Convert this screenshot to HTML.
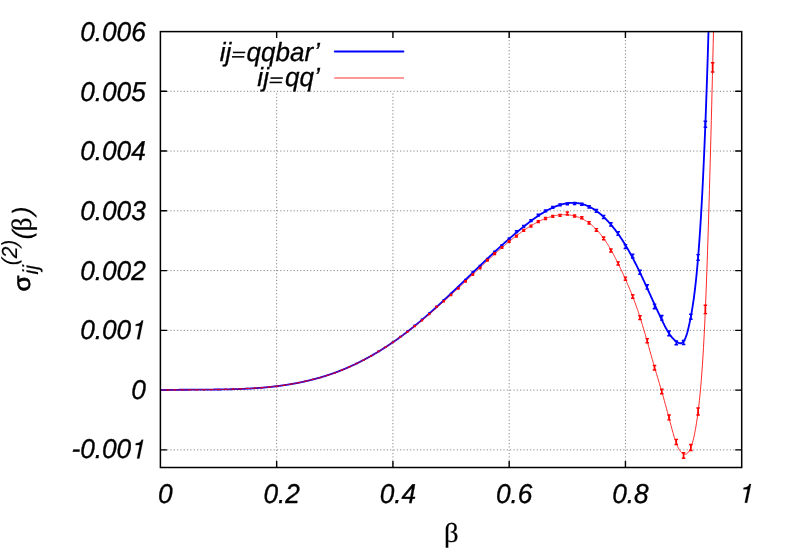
<!DOCTYPE html>
<html><head><meta charset="utf-8"><title>plot</title>
<style>html,body{margin:0;padding:0;background:#fff;}svg text{text-rendering:geometricPrecision}body{width:789px;height:552px;position:relative;overflow:hidden;font-family:"Liberation Sans",sans-serif;}</style>
</head><body>
<svg width="789" height="552" viewBox="0 0 789 552" style="position:absolute;left:0;top:0;will-change:transform">
<defs><clipPath id="c"><rect x="160.40" y="31.60" width="581.30" height="435.90"/></clipPath></defs>
<path d="M276.66 467.50V91.30M392.92 467.50V91.30M509.18 467.50V31.60M625.44 467.50V31.60M160.40 449.86H741.70M160.40 390.10H741.70M160.40 330.34H741.70M160.40 270.58H741.70M160.40 210.82H741.70M160.40 151.06H741.70M160.40 91.30H741.70" stroke="#838383" stroke-width="1" stroke-dasharray="1.15 2.18" fill="none"/>
<path d="M276.66 467.50v-6.5M276.66 31.60v6.5M392.92 467.50v-6.5M392.92 31.60v6.5M509.18 467.50v-6.5M509.18 31.60v6.5M625.44 467.50v-6.5M625.44 31.60v6.5M160.40 449.86h6.5M741.70 449.86h-6.5M160.40 390.10h6.5M741.70 390.10h-6.5M160.40 330.34h6.5M741.70 330.34h-6.5M160.40 270.58h6.5M741.70 270.58h-6.5M160.40 210.82h6.5M741.70 210.82h-6.5M160.40 151.06h6.5M741.70 151.06h-6.5M160.40 91.30h6.5M741.70 91.30h-6.5" stroke="#000" stroke-width="1.4" fill="none"/>
<g clip-path="url(#c)">
<path d="M160.40 390.20L160.77 390.19L161.14 390.18L161.51 390.16L161.87 390.15L162.24 390.14L162.61 390.13L162.98 390.12L163.35 390.11L163.72 390.10L164.08 390.09L164.45 390.08L164.82 390.07L165.19 390.06L165.56 390.05L165.93 390.04L166.29 390.03L166.66 390.02L167.03 390.01L167.40 390.00L167.77 389.99L168.14 389.98L168.50 389.97L168.87 389.97L169.24 389.96L169.61 389.95L169.98 389.94L170.35 389.93L170.72 389.93L171.08 389.92L171.45 389.91L171.82 389.90L172.19 389.90L172.56 389.89L172.93 389.88L173.29 389.88L173.66 389.87L174.03 389.86L174.40 389.86L174.77 389.85L175.14 389.85L175.50 389.84L175.87 389.83L176.24 389.83L176.61 389.82L176.98 389.82L177.35 389.81L177.71 389.81L178.08 389.80L178.45 389.80L178.82 389.79L179.19 389.79L179.56 389.78L179.93 389.78L180.29 389.77L180.66 389.77L181.03 389.77L181.40 389.76L181.77 389.76L182.14 389.75L182.50 389.75L182.87 389.75L183.24 389.74L183.61 389.74L183.98 389.74L184.35 389.73L184.71 389.73L185.08 389.73L185.45 389.72L185.82 389.72L186.19 389.72L186.56 389.71L186.92 389.71L187.29 389.71L187.66 389.71L188.03 389.70L188.40 389.70L188.77 389.70L189.14 389.69L189.50 389.69L189.87 389.69L190.24 389.69L190.61 389.69L190.98 389.68L191.35 389.68L191.71 389.68L192.08 389.68L192.45 389.67L192.82 389.67L193.19 389.67L193.56 389.67L193.92 389.67L194.29 389.66L194.66 389.66L195.03 389.66L195.40 389.66L195.77 389.66L196.14 389.65L196.50 389.65L196.87 389.65L197.24 389.65L197.61 389.65L197.98 389.64L198.35 389.64L198.71 389.64L199.08 389.64L199.45 389.64L199.82 389.64L200.19 389.63L200.56 389.63L200.92 389.63L201.29 389.63L201.66 389.63L202.03 389.62L202.40 389.62L202.77 389.62L203.13 389.62L203.50 389.62L203.87 389.61L204.24 389.61L204.61 389.61L204.98 389.61L205.35 389.61L205.71 389.60L206.08 389.60L206.45 389.60L206.82 389.60L207.19 389.60L207.56 389.59L207.92 389.59L208.29 389.59L208.66 389.59L209.03 389.58L209.40 389.58L209.77 389.58L210.13 389.57L210.50 389.57L210.87 389.57L211.24 389.57L211.61 389.56L211.98 389.56L212.34 389.56L212.71 389.55L213.08 389.55L213.45 389.55L213.82 389.54L214.19 389.54L214.56 389.54L214.92 389.53L215.29 389.53L215.66 389.53L216.03 389.52L216.40 389.52L216.77 389.51L217.13 389.51L217.50 389.51L217.87 389.50L218.24 389.50L218.61 389.49L218.98 389.49L219.34 389.48L219.71 389.48L220.08 389.47L220.45 389.47L220.82 389.46L221.19 389.46L221.55 389.45L221.92 389.45L222.29 389.44L222.66 389.43L223.03 389.43L223.40 389.42L223.77 389.42L224.13 389.41L224.50 389.40L224.87 389.40L225.24 389.39L225.61 389.38L225.98 389.38L226.34 389.37L226.71 389.36L227.08 389.35L227.45 389.35L227.82 389.34L228.19 389.33L228.55 389.32L228.92 389.32L229.29 389.31L229.66 389.30L230.03 389.29L230.40 389.28L230.76 389.27L231.13 389.26L231.50 389.25L231.87 389.24L232.24 389.23L232.61 389.22L232.98 389.21L233.34 389.20L233.71 389.19L234.08 389.18L234.45 389.17L234.82 389.16L235.19 389.15L235.55 389.14L235.92 389.13L236.29 389.12L236.66 389.10L237.03 389.09L237.40 389.08L237.76 389.07L238.13 389.05L238.50 389.04L238.87 389.03L239.24 389.01L239.61 389.00L239.97 388.99L240.34 388.97L240.71 388.96L241.08 388.94L241.45 388.93L241.82 388.91L242.19 388.90L242.55 388.88L242.92 388.87L243.29 388.85L243.66 388.84L244.03 388.82L244.40 388.80L244.76 388.79L245.13 388.77L245.50 388.75L245.87 388.74L246.24 388.72L246.61 388.70L246.97 388.68L247.34 388.66L247.71 388.64L248.08 388.63L248.45 388.61L248.82 388.59L249.18 388.57L249.55 388.55L249.92 388.53L250.29 388.51L250.66 388.48L251.03 388.46L251.40 388.44L251.76 388.42L252.13 388.40L252.50 388.38L252.87 388.35L253.24 388.33L253.61 388.31L253.97 388.28L254.34 388.26L254.71 388.24L255.08 388.21L255.45 388.19L255.82 388.16L256.18 388.14L256.55 388.11L256.92 388.09L257.29 388.06L257.66 388.03L258.03 388.01L258.40 387.98L258.76 387.95L259.13 387.93L259.50 387.90L259.87 387.87L260.24 387.84L260.61 387.81L260.97 387.78L261.34 387.75L261.71 387.72L262.08 387.69L262.45 387.66L262.82 387.63L263.18 387.60L263.55 387.57L263.92 387.54L264.29 387.51L264.66 387.47L265.03 387.44L265.39 387.41L265.76 387.37L266.13 387.34L266.50 387.30L266.87 387.27L267.24 387.23L267.61 387.20L267.97 387.16L268.34 387.13L268.71 387.09L269.08 387.05L269.45 387.02L269.82 386.98L270.18 386.94L270.55 386.90L270.92 386.86L271.29 386.82L271.66 386.79L272.03 386.75L272.39 386.71L272.76 386.66L273.13 386.62L273.50 386.58L273.87 386.54L274.24 386.50L274.60 386.46L274.97 386.41L275.34 386.37L275.71 386.33L276.08 386.28L276.45 386.24L276.82 386.19L277.18 386.15L277.55 386.10L277.92 386.05L278.29 386.01L278.66 385.96L279.03 385.91L279.39 385.86L279.76 385.82L280.13 385.77L280.50 385.72L280.87 385.67L281.24 385.62L281.60 385.57L281.97 385.52L282.34 385.47L282.71 385.41L283.08 385.36L283.45 385.31L283.81 385.26L284.18 385.20L284.55 385.15L284.92 385.09L285.29 385.04L285.66 384.98L286.03 384.93L286.39 384.87L286.76 384.81L287.13 384.76L287.50 384.70L287.87 384.64L288.24 384.58L288.60 384.52L288.97 384.46L289.34 384.40L289.71 384.34L290.08 384.28L290.45 384.22L290.81 384.16L291.18 384.10L291.55 384.03L291.92 383.97L292.29 383.91L292.66 383.84L293.02 383.78L293.39 383.71L293.76 383.64L294.13 383.58L294.50 383.51L294.87 383.44L295.24 383.38L295.60 383.31L295.97 383.24L296.34 383.17L296.71 383.10L297.08 383.03L297.45 382.96L297.81 382.89L298.18 382.81L298.55 382.74L298.92 382.67L299.29 382.59L299.66 382.52L300.02 382.45L300.39 382.37L300.76 382.29L301.13 382.22L301.50 382.14L301.87 382.06L302.23 381.99L302.60 381.91L302.97 381.83L303.34 381.75L303.71 381.67L304.08 381.59L304.45 381.51L304.81 381.43L305.18 381.34L305.55 381.26L305.92 381.18L306.29 381.09L306.66 381.01L307.02 380.92L307.39 380.84L307.76 380.75L308.13 380.66L308.50 380.58L308.87 380.49L309.23 380.40L309.60 380.31L309.97 380.22L310.34 380.13L310.71 380.04L311.08 379.95L311.44 379.86L311.81 379.76L312.18 379.67L312.55 379.58L312.92 379.48L313.29 379.39L313.66 379.29L314.02 379.20L314.39 379.10L314.76 379.00L315.13 378.90L315.50 378.80L315.87 378.70L316.23 378.60L316.60 378.50L316.97 378.40L317.34 378.30L317.71 378.20L318.08 378.10L318.44 377.99L318.81 377.89L319.18 377.78L319.55 377.68L319.92 377.57L320.29 377.46L320.65 377.36L321.02 377.25L321.39 377.14L321.76 377.03L322.13 376.92L322.50 376.81L322.87 376.70L323.23 376.59L323.60 376.47L323.97 376.36L324.34 376.25L324.71 376.13L325.08 376.02L325.44 375.90L325.81 375.78L326.18 375.67L326.55 375.55L326.92 375.43L327.29 375.31L327.65 375.19L328.02 375.07L328.39 374.95L328.76 374.83L329.13 374.70L329.50 374.58L329.87 374.46L330.23 374.33L330.60 374.21L330.97 374.08L331.34 373.95L331.71 373.82L332.08 373.70L332.44 373.57L332.81 373.44L333.18 373.31L333.55 373.18L333.92 373.04L334.29 372.91L334.65 372.78L335.02 372.64L335.39 372.51L335.76 372.37L336.13 372.24L336.50 372.10L336.86 371.96L337.23 371.83L337.60 371.69L337.97 371.55L338.34 371.41L338.71 371.27L339.08 371.12L339.44 370.98L339.81 370.84L340.18 370.69L340.55 370.55L340.92 370.40L341.29 370.26L341.65 370.11L342.02 369.96L342.39 369.81L342.76 369.66L343.13 369.51L343.50 369.36L343.86 369.21L344.23 369.06L344.60 368.90L344.97 368.75L345.34 368.60L345.71 368.44L346.07 368.28L346.44 368.13L346.81 367.97L347.18 367.81L347.55 367.65L347.92 367.49L348.29 367.33L348.65 367.17L349.02 367.01L349.39 366.84L349.76 366.68L350.13 366.52L350.50 366.35L350.86 366.19L351.23 366.02L351.60 365.85L351.97 365.68L352.34 365.51L352.71 365.34L353.07 365.17L353.44 365.00L353.81 364.83L354.18 364.66L354.55 364.48L354.92 364.31L355.28 364.13L355.65 363.96L356.02 363.78L356.39 363.60L356.76 363.43L357.13 363.25L357.50 363.07L357.86 362.89L358.23 362.71L358.60 362.52L358.97 362.34L359.34 362.16L359.71 361.97L360.07 361.79L360.44 361.60L360.81 361.42L361.18 361.23L361.55 361.04L361.92 360.85L362.28 360.66L362.65 360.47L363.02 360.28L363.39 360.09L363.76 359.90L364.13 359.70L364.49 359.51L364.86 359.31L365.23 359.12L365.60 358.92L365.97 358.73L366.34 358.53L366.71 358.33L367.07 358.13L367.44 357.93L367.81 357.73L368.18 357.53L368.55 357.32L368.92 357.12L369.28 356.92L369.65 356.71L370.02 356.51L370.39 356.30L370.76 356.09L371.13 355.89L371.49 355.68L371.86 355.47L372.23 355.26L372.60 355.05L372.97 354.84L373.34 354.62L373.70 354.41L374.07 354.20L374.44 353.98L374.81 353.77L375.18 353.55L375.55 353.33L375.92 353.12L376.28 352.90L376.65 352.68L377.02 352.46L377.39 352.24L377.76 352.02L378.13 351.79L378.49 351.57L378.86 351.35L379.23 351.12L379.60 350.90L379.97 350.67L380.34 350.44L380.70 350.22L381.07 349.99L381.44 349.76L381.81 349.53L382.18 349.30L382.55 349.07L382.91 348.83L383.28 348.60L383.65 348.37L384.02 348.13L384.39 347.90L384.76 347.66L385.13 347.43L385.49 347.19L385.86 346.95L386.23 346.71L386.60 346.47L386.97 346.23L387.34 345.99L387.70 345.75L388.07 345.50L388.44 345.26L388.81 345.02L389.18 344.77L389.55 344.52L389.91 344.28L390.28 344.03L390.65 343.78L391.02 343.53L391.39 343.28L391.76 343.03L392.13 342.78L392.49 342.53L392.86 342.28L393.23 342.02L393.60 341.77L393.97 341.51L394.34 341.26L394.70 341.00L395.07 340.74L395.44 340.48L395.81 340.23L396.18 339.97L396.55 339.70L396.91 339.44L397.28 339.18L397.65 338.92L398.02 338.65L398.39 338.39L398.76 338.13L399.12 337.86L399.49 337.59L399.86 337.33L400.23 337.06L400.60 336.79L400.97 336.52L401.34 336.25L401.70 335.98L402.07 335.70L402.44 335.43L402.81 335.16L403.18 334.88L403.55 334.61L403.91 334.33L404.28 334.06L404.65 333.78L405.02 333.50L405.39 333.22L405.76 332.94L406.12 332.66L406.49 332.38L406.86 332.10L407.23 331.81L407.60 331.53L407.97 331.25L408.33 330.96L408.70 330.67L409.07 330.39L409.44 330.10L409.81 329.81L410.18 329.52L410.55 329.23L410.91 328.94L411.28 328.65L411.65 328.36L412.02 328.07L412.39 327.77L412.76 327.48L413.12 327.18L413.49 326.89L413.86 326.59L414.23 326.29L414.60 325.99L414.97 325.69L415.33 325.39L415.70 325.09L416.07 324.79L416.44 324.49L416.81 324.19L417.18 323.88L417.54 323.58L417.91 323.27L418.28 322.97L418.65 322.66L419.02 322.35L419.39 322.05L419.76 321.74L420.12 321.43L420.49 321.12L420.86 320.81L421.23 320.50L421.60 320.18L421.97 319.87L422.33 319.56L422.70 319.24L423.07 318.93L423.44 318.61L423.81 318.30L424.18 317.98L424.54 317.66L424.91 317.35L425.28 317.03L425.65 316.71L426.02 316.39L426.39 316.07L426.75 315.75L427.12 315.42L427.49 315.10L427.86 314.78L428.23 314.46L428.60 314.13L428.97 313.81L429.33 313.48L429.70 313.16L430.07 312.83L430.44 312.50L430.81 312.18L431.18 311.85L431.54 311.52L431.91 311.19L432.28 310.86L432.65 310.53L433.02 310.20L433.39 309.87L433.75 309.54L434.12 309.20L434.49 308.87L434.86 308.54L435.23 308.21L435.60 307.87L435.96 307.54L436.33 307.20L436.70 306.87L437.07 306.53L437.44 306.19L437.81 305.86L438.18 305.52L438.54 305.18L438.91 304.85L439.28 304.51L439.65 304.17L440.02 303.83L440.39 303.49L440.75 303.15L441.12 302.81L441.49 302.47L441.86 302.13L442.23 301.78L442.60 301.44L442.96 301.10L443.33 300.76L443.70 300.41L444.07 300.07L444.44 299.73L444.81 299.38L445.17 299.04L445.54 298.69L445.91 298.35L446.28 298.00L446.65 297.66L447.02 297.31L447.39 296.96L447.75 296.62L448.12 296.27L448.49 295.92L448.86 295.58L449.23 295.23L449.60 294.88L449.96 294.53L450.33 294.18L450.70 293.83L451.07 293.48L451.44 293.13L451.81 292.78L452.17 292.43L452.54 292.08L452.91 291.73L453.28 291.38L453.65 291.03L454.02 290.68L454.39 290.33L454.75 289.98L455.12 289.63L455.49 289.28L455.86 288.92L456.23 288.57L456.60 288.22L456.96 287.87L457.33 287.51L457.70 287.16L458.07 286.81L458.44 286.45L458.81 286.10L459.17 285.75L459.54 285.39L459.91 285.04L460.28 284.69L460.65 284.33L461.02 283.98L461.38 283.63L461.75 283.27L462.12 282.92L462.49 282.56L462.86 282.21L463.23 281.85L463.60 281.50L463.96 281.14L464.33 280.79L464.70 280.43L465.07 280.08L465.44 279.72L465.81 279.37L466.17 279.01L466.54 278.66L466.91 278.30L467.28 277.95L467.65 277.59L468.02 277.24L468.38 276.88L468.75 276.53L469.12 276.17L469.49 275.82L469.86 275.46L470.23 275.11L470.59 274.75L470.96 274.40L471.33 274.04L471.70 273.69L472.07 273.33L472.44 272.98L472.81 272.63L473.17 272.27L473.54 271.92L473.91 271.56L474.28 271.21L474.65 270.85L475.02 270.50L475.38 270.14L475.75 269.79L476.12 269.44L476.49 269.08L476.86 268.73L477.23 268.38L477.59 268.02L477.96 267.67L478.33 267.32L478.70 266.96L479.07 266.61L479.44 266.26L479.80 265.91L480.17 265.55L480.54 265.20L480.91 264.85L481.28 264.50L481.65 264.15L482.02 263.79L482.38 263.44L482.75 263.09L483.12 262.74L483.49 262.39L483.86 262.04L484.23 261.69L484.59 261.34L484.96 260.99L485.33 260.64L485.70 260.29L486.07 259.94L486.44 259.60L486.80 259.25L487.17 258.90L487.54 258.55L487.91 258.20L488.28 257.86L488.65 257.51L489.01 257.16L489.38 256.82L489.75 256.47L490.12 256.12L490.49 255.78L490.86 255.43L491.23 255.09L491.59 254.74L491.96 254.40L492.33 254.06L492.70 253.71L493.07 253.37L493.44 253.03L493.80 252.69L494.17 252.34L494.54 252.00L494.91 251.66L495.28 251.32L495.65 250.98L496.01 250.64L496.38 250.30L496.75 249.96L497.12 249.62L497.49 249.28L497.86 248.95L498.22 248.61L498.59 248.27L498.96 247.93L499.33 247.60L499.70 247.26L500.07 246.93L500.44 246.59L500.80 246.26L501.17 245.92L501.54 245.59L501.91 245.26L502.28 244.93L502.65 244.59L503.01 244.26L503.38 243.93L503.75 243.60L504.12 243.27L504.49 242.94L504.86 242.61L505.22 242.28L505.59 241.96L505.96 241.63L506.33 241.30L506.70 240.98L507.07 240.65L507.43 240.33L507.80 240.00L508.17 239.68L508.54 239.35L508.91 239.03L509.28 238.71L509.65 238.39L510.01 238.07L510.38 237.75L510.75 237.43L511.12 237.11L511.49 236.79L511.86 236.47L512.22 236.15L512.59 235.84L512.96 235.52L513.33 235.21L513.70 234.89L514.07 234.58L514.43 234.26L514.80 233.95L515.17 233.64L515.54 233.33L515.91 233.02L516.28 232.71L516.64 232.40L517.01 232.09L517.38 231.78L517.75 231.48L518.12 231.17L518.49 230.86L518.86 230.56L519.22 230.25L519.59 229.95L519.96 229.65L520.33 229.35L520.70 229.04L521.07 228.74L521.43 228.44L521.80 228.15L522.17 227.85L522.54 227.55L522.91 227.25L523.28 226.96L523.64 226.66L524.01 226.37L524.38 226.08L524.75 225.78L525.12 225.49L525.49 225.20L525.86 224.91L526.22 224.62L526.59 224.33L526.96 224.05L527.33 223.76L527.70 223.48L528.07 223.19L528.43 222.91L528.80 222.63L529.17 222.35L529.54 222.07L529.91 221.79L530.28 221.51L530.64 221.24L531.01 220.96L531.38 220.69L531.75 220.41L532.12 220.14L532.49 219.87L532.85 219.60L533.22 219.34L533.59 219.07L533.96 218.81L534.33 218.54L534.70 218.28L535.07 218.02L535.43 217.76L535.80 217.50L536.17 217.25L536.54 216.99L536.91 216.74L537.28 216.49L537.64 216.24L538.01 215.99L538.38 215.75L538.75 215.50L539.12 215.26L539.49 215.02L539.85 214.78L540.22 214.54L540.59 214.30L540.96 214.07L541.33 213.83L541.70 213.60L542.06 213.37L542.43 213.15L542.80 212.92L543.17 212.70L543.54 212.48L543.91 212.26L544.28 212.04L544.64 211.82L545.01 211.61L545.38 211.40L545.75 211.19L546.12 210.98L546.49 210.78L546.85 210.57L547.22 210.37L547.59 210.17L547.96 209.98L548.33 209.78L548.70 209.59L549.06 209.40L549.43 209.21L549.80 209.02L550.17 208.84L550.54 208.66L550.91 208.48L551.27 208.30L551.64 208.13L552.01 207.96L552.38 207.79L552.75 207.62L553.12 207.46L553.49 207.30L553.85 207.14L554.22 206.98L554.59 206.82L554.96 206.67L555.33 206.52L555.70 206.38L556.06 206.23L556.43 206.09L556.80 205.95L557.17 205.82L557.54 205.68L557.91 205.55L558.27 205.43L558.64 205.30L559.01 205.18L559.38 205.06L559.75 204.94L560.12 204.83L560.48 204.72L560.85 204.61L561.22 204.51L561.59 204.41L561.96 204.31L562.33 204.21L562.70 204.12L563.06 204.03L563.43 203.94L563.80 203.86L564.17 203.78L564.54 203.70L564.91 203.63L565.27 203.55L565.64 203.49L566.01 203.42L566.38 203.36L566.75 203.30L567.12 203.25L567.48 203.19L567.85 203.15L568.22 203.10L568.59 203.06L568.96 203.02L569.33 202.98L569.69 202.95L570.06 202.93L570.43 202.90L570.80 202.88L571.17 202.86L571.54 202.85L571.91 202.84L572.27 202.83L572.64 202.83L573.01 202.83L573.38 202.83L573.75 202.84L574.12 202.85L574.48 202.86L574.85 202.88L575.22 202.90L575.59 202.93L575.96 202.96L576.33 202.99L576.69 203.03L577.06 203.07L577.43 203.11L577.80 203.16L578.17 203.22L578.54 203.27L578.90 203.33L579.27 203.40L579.64 203.47L580.01 203.54L580.38 203.61L580.75 203.69L581.12 203.78L581.48 203.87L581.85 203.96L582.22 204.06L582.59 204.16L582.96 204.26L583.33 204.37L583.69 204.49L584.06 204.60L584.43 204.73L584.80 204.85L585.17 204.98L585.54 205.12L585.90 205.25L586.27 205.40L586.64 205.54L587.01 205.69L587.38 205.85L587.75 206.01L588.12 206.17L588.48 206.34L588.85 206.51L589.22 206.69L589.59 206.87L589.96 207.05L590.33 207.24L590.69 207.43L591.06 207.63L591.43 207.83L591.80 208.04L592.17 208.25L592.54 208.46L592.90 208.68L593.27 208.90L593.64 209.13L594.01 209.36L594.38 209.59L594.75 209.83L595.11 210.08L595.48 210.33L595.85 210.58L596.22 210.83L596.59 211.10L596.96 211.36L597.33 211.63L597.69 211.90L598.06 212.18L598.43 212.46L598.80 212.75L599.17 213.04L599.54 213.34L599.90 213.63L600.27 213.94L600.64 214.25L601.01 214.56L601.38 214.88L601.75 215.20L602.11 215.52L602.48 215.85L602.85 216.19L603.22 216.52L603.59 216.87L603.96 217.21L604.32 217.56L604.69 217.92L605.06 218.28L605.43 218.64L605.80 219.01L606.17 219.39L606.54 219.76L606.90 220.15L607.27 220.53L607.64 220.92L608.01 221.32L608.38 221.72L608.75 222.12L609.11 222.53L609.48 222.94L609.85 223.36L610.22 223.78L610.59 224.21L610.96 224.64L611.32 225.07L611.69 225.51L612.06 225.95L612.43 226.40L612.80 226.85L613.17 227.31L613.53 227.77L613.90 228.24L614.27 228.71L614.64 229.18L615.01 229.66L615.38 230.15L615.75 230.63L616.11 231.13L616.48 231.62L616.85 232.12L617.22 232.63L617.59 233.14L617.96 233.66L618.32 234.18L618.69 234.70L619.06 235.23L619.43 235.76L619.80 236.30L620.17 236.84L620.53 237.39L620.90 237.94L621.27 238.49L621.64 239.05L622.01 239.62L622.38 240.19L622.74 240.76L623.11 241.34L623.48 241.92L623.85 242.51L624.22 243.10L624.59 243.70L624.96 244.30L625.32 244.90L625.69 245.51L626.06 246.13L626.43 246.74L626.80 247.37L627.17 248.00L627.53 248.63L627.90 249.27L628.27 249.91L628.64 250.56L629.01 251.21L629.38 251.86L629.74 252.52L630.11 253.19L630.48 253.86L630.85 254.53L631.22 255.21L631.59 255.89L631.95 256.58L632.32 257.28L632.69 257.97L633.06 258.67L633.43 259.38L633.80 260.09L634.17 260.81L634.53 261.53L634.90 262.25L635.27 262.98L635.64 263.71L636.01 264.45L636.38 265.19L636.74 265.93L637.11 266.68L637.48 267.43L637.85 268.18L638.22 268.94L638.59 269.70L638.95 270.46L639.32 271.23L639.69 272.00L640.06 272.77L640.43 273.54L640.80 274.32L641.16 275.10L641.53 275.88L641.90 276.67L642.27 277.45L642.64 278.24L643.01 279.03L643.38 279.83L643.74 280.62L644.11 281.42L644.48 282.22L644.85 283.02L645.22 283.82L645.59 284.62L645.95 285.42L646.32 286.23L646.69 287.04L647.06 287.84L647.43 288.65L647.80 289.46L648.16 290.27L648.53 291.08L648.90 291.89L649.27 292.70L649.64 293.51L650.01 294.33L650.38 295.14L650.74 295.95L651.11 296.76L651.48 297.57L651.85 298.39L652.22 299.20L652.59 300.01L652.95 300.82L653.32 301.63L653.69 302.44L654.06 303.24L654.43 304.05L654.80 304.86L655.16 305.66L655.53 306.47L655.90 307.27L656.27 308.07L656.64 308.87L657.01 309.67L657.37 310.46L657.74 311.26L658.11 312.05L658.48 312.84L658.85 313.63L659.22 314.42L659.59 315.20L659.95 315.98L660.32 316.76L660.69 317.54L661.06 318.31L661.43 319.08L661.80 319.85L662.16 320.62L662.53 321.38L662.90 322.14L663.27 322.89L663.64 323.64L664.01 324.38L664.37 325.11L664.74 325.83L665.11 326.55L665.48 327.25L665.85 327.94L666.22 328.63L666.58 329.30L666.95 329.96L667.32 330.60L667.69 331.23L668.06 331.85L668.43 332.45L668.80 333.03L669.16 333.60L669.53 334.15L669.90 334.68L670.27 335.19L670.64 335.69L671.01 336.17L671.37 336.63L671.74 337.08L672.11 337.52L672.48 337.94L672.85 338.34L673.22 338.73L673.58 339.11L673.95 339.47L674.32 339.82L674.69 340.16L675.06 340.49L675.43 340.80L675.79 341.10L676.16 341.39L676.53 341.67L676.90 341.93L677.27 342.18L677.64 342.41L678.01 342.62L678.37 342.81L678.74 342.97L679.11 343.10L679.48 343.19L679.85 343.26L680.22 343.28L680.58 343.26L680.95 343.20L681.32 343.09L681.69 342.94L682.06 342.73L682.43 342.47L682.79 342.14L683.16 341.76L683.53 341.32L683.90 340.80L684.27 340.22L684.64 339.57L685.00 338.84L685.37 338.03L685.74 337.15L686.11 336.17L686.48 335.12L686.85 333.97L687.22 332.72L687.58 331.39L687.95 329.97L688.32 328.48L688.69 326.92L689.06 325.32L689.43 323.65L689.79 321.92L690.16 320.13L690.53 318.28L690.90 316.36L691.27 314.37L691.64 312.31L692.00 310.17L692.37 307.94L692.74 305.62L693.11 303.20L693.48 300.67L693.85 298.04L694.21 295.28L694.58 292.40L694.95 289.40L695.32 286.25L695.69 282.96L696.06 279.52L696.43 275.93L696.79 272.18L697.16 268.25L697.53 264.16L697.90 259.88L698.27 255.41L698.64 250.76L699.00 245.90L699.37 240.84L699.74 235.56L700.11 230.07L700.48 224.35L700.85 218.41L701.21 212.22L701.58 205.80L701.95 199.12L702.32 192.19L702.69 184.99L703.06 177.53L703.42 169.79L703.79 161.77L704.16 153.47L704.53 144.87L704.90 135.97L705.27 126.77L705.64 117.25L706.00 107.41L706.37 97.24L706.74 86.73L707.11 75.87L707.48 64.65L707.85 53.06L708.21 41.09L708.58 28.73L708.95 15.97L709.32 2.80L709.69 -10.79" stroke="#0000ff" stroke-width="1.85" fill="none" stroke-linejoin="round"/>
<path d="M349.32 366.78V366.91M356.59 363.41V363.61M363.86 359.90V360.17M371.12 355.87V356.20M378.39 351.18V351.58M385.65 346.64V347.11M392.92 341.88V342.41M400.19 336.41V337.01M407.45 330.95V331.62M414.72 325.13V325.86M421.99 319.19V319.99M429.25 312.95V313.82M436.52 306.41V307.36M443.78 299.81V300.83M451.05 293.48V294.58M458.32 286.79V287.97M465.58 279.46V280.71M472.85 271.53V272.86M480.12 265.40V266.80M487.38 258.48V259.98M494.65 251.25V252.85M501.91 244.75V246.45M509.18 238.01V239.81M516.45 230.83V232.64M523.71 225.39V227.21M530.98 219.65V221.48M538.25 214.26V216.10M545.51 210.01V211.87M552.78 206.36V208.23M560.04 203.85V205.72M567.31 202.89V204.77M574.58 202.58V204.48M581.84 203.10V205.15M589.11 205.60V208.03M596.38 209.48V212.28M603.64 215.38V218.45M610.91 222.66V225.99M618.17 231.67V235.27M625.44 244.60V248.40M632.71 254.11V258.01M639.97 270.25V274.25M647.24 284.80V289.10M654.51 304.14V308.74M661.77 315.44V320.14M669.04 330.99V335.79M676.30 340.93V344.73M683.57 340.47V344.47M690.84 314.21V319.21M698.10 254.63V260.23M705.37 121.17V127.17" stroke="#0000ff" stroke-width="1.7" fill="none"/><path d="M166.55 390.02h2.23M173.82 389.97h2.23M181.08 389.94h2.23M188.35 389.92h2.23M195.62 389.88h2.23M202.88 389.81h2.23M210.15 389.69h2.23M217.41 389.50h2.23M224.68 389.24h2.23M231.95 388.93h2.23M239.21 388.60h2.23M246.48 388.31h2.23M253.75 388.05h2.23M261.01 387.74h2.23M268.28 387.26h2.23M275.54 386.51h2.23M282.81 385.42h2.23M290.08 384.06h2.23M297.34 382.57h2.23M304.61 381.03h2.23M311.88 379.40h2.23M319.14 377.59h2.23M326.41 375.46h2.23M333.67 372.92h2.23M340.93 369.99h2.24M348.19 366.78h2.26M348.19 366.91h2.26M355.45 363.41h2.27M355.45 363.61h2.27M362.72 359.90h2.28M362.72 360.17h2.28M369.98 355.87h2.29M369.98 356.20h2.29M377.24 351.18h2.30M377.24 351.58h2.30M384.50 346.64h2.32M384.50 347.11h2.32M391.76 341.88h2.33M391.76 342.41h2.33M399.02 336.41h2.34M399.02 337.01h2.34" stroke="#0000ff" stroke-opacity="0.72" stroke-width="1.3" fill="none"/><path d="M406.28 330.95h2.35M406.28 331.62h2.35M413.54 325.13h2.36M413.54 325.86h2.36M420.80 319.19h2.38M420.80 319.99h2.38M428.04 312.95h2.43M428.04 313.82h2.43M435.28 306.41h2.48M435.28 307.36h2.48M442.51 299.81h2.54M442.51 300.83h2.54M449.75 293.48h2.59M449.75 294.58h2.59M456.98 286.79h2.67M456.98 287.97h2.67M464.21 279.46h2.75M464.21 280.71h2.75M471.43 271.53h2.83M471.43 272.86h2.83M478.66 265.40h2.92M478.66 266.80h2.92M485.88 258.48h3.00M485.88 259.98h3.00M493.11 251.25h3.08M493.11 252.85h3.08M500.33 244.75h3.16M500.33 246.45h3.16M507.56 238.01h3.24M507.56 239.81h3.24M514.81 230.83h3.27M514.81 232.64h3.27M522.06 225.39h3.30M522.06 227.21h3.30M529.31 219.65h3.33M529.31 221.48h3.33M536.57 214.26h3.36M536.57 216.10h3.36M543.82 210.01h3.39M543.82 211.87h3.39M551.07 206.36h3.42M551.07 208.23h3.42M558.32 203.85h3.45M558.32 205.72h3.45M565.57 202.89h3.48M565.57 204.77h3.48M572.82 202.58h3.51M572.82 204.48h3.51M580.07 203.10h3.54M580.07 205.15h3.54M587.32 205.60h3.57M587.32 208.03h3.57M594.58 209.48h3.60M594.58 212.28h3.60M601.84 215.38h3.60M601.84 218.45h3.60M609.11 222.66h3.60M609.11 225.99h3.60M616.37 231.67h3.60M616.37 235.27h3.60M623.64 244.60h3.60M623.64 248.40h3.60M630.91 254.11h3.60M630.91 258.01h3.60M638.17 270.25h3.60M638.17 274.25h3.60M645.44 284.80h3.60M645.44 289.10h3.60M652.71 304.14h3.60M652.71 308.74h3.60M659.97 315.44h3.60M659.97 320.14h3.60M667.24 330.99h3.60M667.24 335.79h3.60M674.50 340.93h3.60M674.50 344.73h3.60M681.77 340.47h3.60M681.77 344.47h3.60M689.04 314.21h3.60M689.04 319.21h3.60M696.30 254.63h3.60M696.30 260.23h3.60M703.57 121.17h3.60M703.57 127.17h3.60" stroke="#0000ff" stroke-width="1.45" fill="none"/>
<path d="M160.40 390.15L160.77 390.14L161.15 390.13L161.52 390.12L161.89 390.12L162.27 390.11L162.64 390.10L163.01 390.09L163.39 390.08L163.76 390.08L164.13 390.07L164.51 390.06L164.88 390.05L165.25 390.05L165.63 390.04L166.00 390.03L166.37 390.02L166.75 390.02L167.12 390.01L167.49 390.01L167.86 390.00L168.24 389.99L168.61 389.99L168.98 389.98L169.36 389.97L169.73 389.97L170.10 389.96L170.48 389.96L170.85 389.95L171.22 389.95L171.60 389.94L171.97 389.94L172.34 389.93L172.72 389.93L173.09 389.92L173.46 389.92L173.84 389.91L174.21 389.91L174.58 389.90L174.96 389.90L175.33 389.89L175.70 389.89L176.08 389.89L176.45 389.88L176.82 389.88L177.20 389.87L177.57 389.87L177.94 389.87L178.32 389.86L178.69 389.86L179.06 389.86L179.44 389.85L179.81 389.85L180.18 389.85L180.56 389.84L180.93 389.84L181.30 389.84L181.68 389.83L182.05 389.83L182.42 389.83L182.79 389.83L183.17 389.82L183.54 389.82L183.91 389.82L184.29 389.81L184.66 389.81L185.03 389.81L185.41 389.81L185.78 389.80L186.15 389.80L186.53 389.80L186.90 389.80L187.27 389.79L187.65 389.79L188.02 389.79L188.39 389.79L188.77 389.79L189.14 389.78L189.51 389.78L189.89 389.78L190.26 389.78L190.63 389.77L191.01 389.77L191.38 389.77L191.75 389.77L192.13 389.77L192.50 389.76L192.87 389.76L193.25 389.76L193.62 389.76L193.99 389.76L194.37 389.75L194.74 389.75L195.11 389.75L195.49 389.75L195.86 389.74L196.23 389.74L196.61 389.74L196.98 389.74L197.35 389.74L197.72 389.73L198.10 389.73L198.47 389.73L198.84 389.73L199.22 389.72L199.59 389.72L199.96 389.72L200.34 389.72L200.71 389.72L201.08 389.71L201.46 389.71L201.83 389.71L202.20 389.71L202.58 389.70L202.95 389.70L203.32 389.70L203.70 389.69L204.07 389.69L204.44 389.69L204.82 389.69L205.19 389.68L205.56 389.68L205.94 389.68L206.31 389.67L206.68 389.67L207.06 389.67L207.43 389.67L207.80 389.66L208.18 389.66L208.55 389.65L208.92 389.65L209.30 389.65L209.67 389.64L210.04 389.64L210.42 389.64L210.79 389.63L211.16 389.63L211.54 389.62L211.91 389.62L212.28 389.62L212.65 389.61L213.03 389.61L213.40 389.60L213.77 389.60L214.15 389.59L214.52 389.59L214.89 389.58L215.27 389.58L215.64 389.57L216.01 389.57L216.39 389.56L216.76 389.56L217.13 389.55L217.51 389.55L217.88 389.54L218.25 389.54L218.63 389.53L219.00 389.52L219.37 389.52L219.75 389.51L220.12 389.51L220.49 389.50L220.87 389.49L221.24 389.49L221.61 389.48L221.99 389.47L222.36 389.46L222.73 389.46L223.11 389.45L223.48 389.44L223.85 389.43L224.23 389.43L224.60 389.42L224.97 389.41L225.35 389.40L225.72 389.39L226.09 389.39L226.47 389.38L226.84 389.37L227.21 389.36L227.58 389.35L227.96 389.34L228.33 389.33L228.70 389.32L229.08 389.31L229.45 389.30L229.82 389.29L230.20 389.28L230.57 389.27L230.94 389.26L231.32 389.25L231.69 389.24L232.06 389.23L232.44 389.22L232.81 389.20L233.18 389.19L233.56 389.18L233.93 389.17L234.30 389.16L234.68 389.14L235.05 389.13L235.42 389.12L235.80 389.10L236.17 389.09L236.54 389.08L236.92 389.06L237.29 389.05L237.66 389.04L238.04 389.02L238.41 389.01L238.78 388.99L239.16 388.98L239.53 388.96L239.90 388.95L240.28 388.93L240.65 388.92L241.02 388.90L241.40 388.88L241.77 388.87L242.14 388.85L242.51 388.83L242.89 388.82L243.26 388.80L243.63 388.78L244.01 388.77L244.38 388.75L244.75 388.73L245.13 388.71L245.50 388.69L245.87 388.67L246.25 388.65L246.62 388.63L246.99 388.61L247.37 388.59L247.74 388.57L248.11 388.55L248.49 388.53L248.86 388.51L249.23 388.49L249.61 388.47L249.98 388.45L250.35 388.43L250.73 388.40L251.10 388.38L251.47 388.36L251.85 388.34L252.22 388.31L252.59 388.29L252.97 388.26L253.34 388.24L253.71 388.22L254.09 388.19L254.46 388.17L254.83 388.14L255.21 388.12L255.58 388.09L255.95 388.06L256.33 388.04L256.70 388.01L257.07 387.98L257.44 387.96L257.82 387.93L258.19 387.90L258.56 387.87L258.94 387.84L259.31 387.82L259.68 387.79L260.06 387.76L260.43 387.73L260.80 387.70L261.18 387.67L261.55 387.64L261.92 387.61L262.30 387.57L262.67 387.54L263.04 387.51L263.42 387.48L263.79 387.45L264.16 387.41L264.54 387.38L264.91 387.35L265.28 387.31L265.66 387.28L266.03 387.24L266.40 387.21L266.78 387.17L267.15 387.14L267.52 387.10L267.90 387.07L268.27 387.03L268.64 386.99L269.02 386.95L269.39 386.92L269.76 386.88L270.14 386.84L270.51 386.80L270.88 386.76L271.26 386.72L271.63 386.68L272.00 386.64L272.37 386.60L272.75 386.56L273.12 386.52L273.49 386.48L273.87 386.44L274.24 386.39L274.61 386.35L274.99 386.31L275.36 386.27L275.73 386.22L276.11 386.18L276.48 386.13L276.85 386.09L277.23 386.04L277.60 386.00L277.97 385.95L278.35 385.90L278.72 385.86L279.09 385.81L279.47 385.76L279.84 385.71L280.21 385.66L280.59 385.62L280.96 385.57L281.33 385.52L281.71 385.47L282.08 385.41L282.45 385.36L282.83 385.31L283.20 385.26L283.57 385.21L283.95 385.16L284.32 385.10L284.69 385.05L285.07 384.99L285.44 384.94L285.81 384.88L286.19 384.83L286.56 384.77L286.93 384.72L287.30 384.66L287.68 384.60L288.05 384.54L288.42 384.49L288.80 384.43L289.17 384.37L289.54 384.31L289.92 384.25L290.29 384.19L290.66 384.13L291.04 384.07L291.41 384.00L291.78 383.94L292.16 383.88L292.53 383.82L292.90 383.75L293.28 383.69L293.65 383.62L294.02 383.56L294.40 383.49L294.77 383.42L295.14 383.36L295.52 383.29L295.89 383.22L296.26 383.15L296.64 383.08L297.01 383.01L297.38 382.94L297.76 382.87L298.13 382.80L298.50 382.73L298.88 382.66L299.25 382.59L299.62 382.51L300.00 382.44L300.37 382.37L300.74 382.29L301.12 382.22L301.49 382.14L301.86 382.06L302.23 381.99L302.61 381.91L302.98 381.83L303.35 381.75L303.73 381.67L304.10 381.59L304.47 381.51L304.85 381.43L305.22 381.35L305.59 381.27L305.97 381.18L306.34 381.10L306.71 381.02L307.09 380.93L307.46 380.85L307.83 380.76L308.21 380.68L308.58 380.59L308.95 380.50L309.33 380.41L309.70 380.33L310.07 380.24L310.45 380.15L310.82 380.06L311.19 379.96L311.57 379.87L311.94 379.78L312.31 379.69L312.69 379.59L313.06 379.50L313.43 379.41L313.81 379.31L314.18 379.21L314.55 379.12L314.93 379.02L315.30 378.92L315.67 378.82L316.05 378.72L316.42 378.62L316.79 378.52L317.16 378.42L317.54 378.32L317.91 378.22L318.28 378.11L318.66 378.01L319.03 377.91L319.40 377.80L319.78 377.70L320.15 377.59L320.52 377.48L320.90 377.37L321.27 377.27L321.64 377.16L322.02 377.05L322.39 376.94L322.76 376.82L323.14 376.71L323.51 376.60L323.88 376.49L324.26 376.37L324.63 376.26L325.00 376.14L325.38 376.03L325.75 375.91L326.12 375.79L326.50 375.67L326.87 375.55L327.24 375.43L327.62 375.31L327.99 375.19L328.36 375.07L328.74 374.95L329.11 374.82L329.48 374.70L329.86 374.58L330.23 374.45L330.60 374.32L330.98 374.20L331.35 374.07L331.72 373.94L332.09 373.81L332.47 373.68L332.84 373.55L333.21 373.42L333.59 373.29L333.96 373.15L334.33 373.02L334.71 372.89L335.08 372.75L335.45 372.61L335.83 372.48L336.20 372.34L336.57 372.20L336.95 372.06L337.32 371.92L337.69 371.78L338.07 371.64L338.44 371.50L338.81 371.35L339.19 371.21L339.56 371.06L339.93 370.92L340.31 370.77L340.68 370.62L341.05 370.48L341.43 370.33L341.80 370.18L342.17 370.03L342.55 369.88L342.92 369.72L343.29 369.57L343.67 369.42L344.04 369.26L344.41 369.11L344.79 368.95L345.16 368.79L345.53 368.64L345.91 368.48L346.28 368.32L346.65 368.16L347.02 368.00L347.40 367.83L347.77 367.67L348.14 367.51L348.52 367.34L348.89 367.18L349.26 367.01L349.64 366.85L350.01 366.68L350.38 366.51L350.76 366.34L351.13 366.17L351.50 366.00L351.88 365.83L352.25 365.66L352.62 365.48L353.00 365.31L353.37 365.13L353.74 364.96L354.12 364.78L354.49 364.60L354.86 364.43L355.24 364.25L355.61 364.07L355.98 363.89L356.36 363.71L356.73 363.53L357.10 363.34L357.48 363.16L357.85 362.97L358.22 362.79L358.60 362.60L358.97 362.42L359.34 362.23L359.72 362.04L360.09 361.85L360.46 361.66L360.84 361.47L361.21 361.28L361.58 361.09L361.95 360.90L362.33 360.70L362.70 360.51L363.07 360.31L363.45 360.12L363.82 359.92L364.19 359.72L364.57 359.52L364.94 359.32L365.31 359.12L365.69 358.92L366.06 358.72L366.43 358.52L366.81 358.32L367.18 358.11L367.55 357.91L367.93 357.70L368.30 357.50L368.67 357.29L369.05 357.08L369.42 356.87L369.79 356.67L370.17 356.46L370.54 356.25L370.91 356.03L371.29 355.82L371.66 355.61L372.03 355.39L372.41 355.18L372.78 354.97L373.15 354.75L373.53 354.53L373.90 354.32L374.27 354.10L374.65 353.88L375.02 353.66L375.39 353.44L375.77 353.22L376.14 352.99L376.51 352.77L376.88 352.55L377.26 352.32L377.63 352.10L378.00 351.87L378.38 351.65L378.75 351.42L379.12 351.19L379.50 350.96L379.87 350.73L380.24 350.50L380.62 350.27L380.99 350.04L381.36 349.81L381.74 349.57L382.11 349.34L382.48 349.11L382.86 348.87L383.23 348.63L383.60 348.40L383.98 348.16L384.35 347.92L384.72 347.68L385.10 347.44L385.47 347.20L385.84 346.96L386.22 346.72L386.59 346.48L386.96 346.23L387.34 345.99L387.71 345.74L388.08 345.50L388.46 345.25L388.83 345.00L389.20 344.76L389.58 344.51L389.95 344.26L390.32 344.01L390.70 343.76L391.07 343.51L391.44 343.25L391.81 343.00L392.19 342.75L392.56 342.49L392.93 342.24L393.31 341.98L393.68 341.73L394.05 341.47L394.43 341.21L394.80 340.95L395.17 340.69L395.55 340.43L395.92 340.17L396.29 339.91L396.67 339.65L397.04 339.38L397.41 339.12L397.79 338.86L398.16 338.59L398.53 338.33L398.91 338.06L399.28 337.79L399.65 337.52L400.03 337.26L400.40 336.99L400.77 336.72L401.15 336.45L401.52 336.17L401.89 335.90L402.27 335.63L402.64 335.36L403.01 335.08L403.39 334.81L403.76 334.53L404.13 334.25L404.51 333.98L404.88 333.70L405.25 333.42L405.63 333.14L406.00 332.86L406.37 332.58L406.74 332.30L407.12 332.02L407.49 331.74L407.86 331.45L408.24 331.17L408.61 330.89L408.98 330.60L409.36 330.31L409.73 330.03L410.10 329.74L410.48 329.45L410.85 329.16L411.22 328.87L411.60 328.58L411.97 328.29L412.34 328.00L412.72 327.71L413.09 327.42L413.46 327.13L413.84 326.83L414.21 326.54L414.58 326.24L414.96 325.95L415.33 325.65L415.70 325.35L416.08 325.06L416.45 324.76L416.82 324.46L417.20 324.16L417.57 323.86L417.94 323.56L418.32 323.26L418.69 322.96L419.06 322.65L419.44 322.35L419.81 322.05L420.18 321.74L420.56 321.44L420.93 321.13L421.30 320.83L421.67 320.52L422.05 320.21L422.42 319.91L422.79 319.60L423.17 319.29L423.54 318.98L423.91 318.67L424.29 318.36L424.66 318.05L425.03 317.74L425.41 317.42L425.78 317.11L426.15 316.80L426.53 316.48L426.90 316.17L427.27 315.86L427.65 315.54L428.02 315.23L428.39 314.91L428.77 314.59L429.14 314.27L429.51 313.96L429.89 313.64L430.26 313.32L430.63 313.00L431.01 312.68L431.38 312.36L431.75 312.04L432.13 311.72L432.50 311.40L432.87 311.07L433.25 310.75L433.62 310.43L433.99 310.11L434.37 309.78L434.74 309.46L435.11 309.13L435.49 308.81L435.86 308.48L436.23 308.15L436.60 307.83L436.98 307.50L437.35 307.17L437.72 306.84L438.10 306.52L438.47 306.19L438.84 305.86L439.22 305.53L439.59 305.20L439.96 304.87L440.34 304.53L440.71 304.20L441.08 303.87L441.46 303.54L441.83 303.21L442.20 302.87L442.58 302.54L442.95 302.21L443.32 301.87L443.70 301.54L444.07 301.20L444.44 300.87L444.82 300.53L445.19 300.19L445.56 299.86L445.94 299.52L446.31 299.18L446.68 298.84L447.06 298.51L447.43 298.17L447.80 297.83L448.18 297.49L448.55 297.15L448.92 296.81L449.30 296.47L449.67 296.13L450.04 295.79L450.41 295.45L450.79 295.11L451.16 294.76L451.53 294.42L451.91 294.08L452.28 293.74L452.65 293.39L453.03 293.05L453.40 292.71L453.77 292.36L454.15 292.02L454.52 291.67L454.89 291.33L455.27 290.98L455.64 290.64L456.01 290.29L456.39 289.95L456.76 289.60L457.13 289.25L457.51 288.91L457.88 288.56L458.25 288.21L458.63 287.86L459.00 287.51L459.37 287.17L459.75 286.82L460.12 286.47L460.49 286.12L460.87 285.77L461.24 285.42L461.61 285.07L461.99 284.72L462.36 284.37L462.73 284.02L463.11 283.67L463.48 283.32L463.85 282.97L464.23 282.62L464.60 282.27L464.97 281.91L465.34 281.56L465.72 281.21L466.09 280.86L466.46 280.50L466.84 280.15L467.21 279.80L467.58 279.45L467.96 279.09L468.33 278.74L468.70 278.39L469.08 278.03L469.45 277.68L469.82 277.32L470.20 276.97L470.57 276.62L470.94 276.26L471.32 275.91L471.69 275.55L472.06 275.20L472.44 274.85L472.81 274.49L473.18 274.14L473.56 273.78L473.93 273.43L474.30 273.08L474.68 272.72L475.05 272.37L475.42 272.01L475.80 271.66L476.17 271.30L476.54 270.95L476.92 270.60L477.29 270.24L477.66 269.89L478.04 269.54L478.41 269.18L478.78 268.83L479.16 268.48L479.53 268.13L479.90 267.77L480.27 267.42L480.65 267.07L481.02 266.72L481.39 266.36L481.77 266.01L482.14 265.66L482.51 265.31L482.89 264.96L483.26 264.61L483.63 264.26L484.01 263.91L484.38 263.56L484.75 263.21L485.13 262.86L485.50 262.51L485.87 262.16L486.25 261.82L486.62 261.47L486.99 261.12L487.37 260.77L487.74 260.43L488.11 260.08L488.49 259.74L488.86 259.39L489.23 259.05L489.61 258.70L489.98 258.36L490.35 258.02L490.73 257.67L491.10 257.33L491.47 256.99L491.85 256.65L492.22 256.31L492.59 255.97L492.97 255.63L493.34 255.29L493.71 254.95L494.09 254.61L494.46 254.27L494.83 253.93L495.20 253.60L495.58 253.26L495.95 252.93L496.32 252.59L496.70 252.26L497.07 251.93L497.44 251.59L497.82 251.26L498.19 250.93L498.56 250.60L498.94 250.27L499.31 249.94L499.68 249.61L500.06 249.28L500.43 248.96L500.80 248.63L501.18 248.31L501.55 247.98L501.92 247.66L502.30 247.33L502.67 247.01L503.04 246.69L503.42 246.37L503.79 246.05L504.16 245.73L504.54 245.41L504.91 245.09L505.28 244.78L505.66 244.46L506.03 244.15L506.40 243.83L506.78 243.52L507.15 243.21L507.52 242.90L507.90 242.59L508.27 242.28L508.64 241.97L509.02 241.66L509.39 241.36L509.76 241.05L510.13 240.75L510.51 240.45L510.88 240.14L511.25 239.84L511.63 239.54L512.00 239.24L512.37 238.95L512.75 238.65L513.12 238.35L513.49 238.06L513.87 237.77L514.24 237.47L514.61 237.18L514.99 236.89L515.36 236.60L515.73 236.32L516.11 236.03L516.48 235.74L516.85 235.46L517.23 235.18L517.60 234.89L517.97 234.61L518.35 234.33L518.72 234.06L519.09 233.78L519.47 233.50L519.84 233.23L520.21 232.96L520.59 232.69L520.96 232.42L521.33 232.15L521.71 231.88L522.08 231.61L522.45 231.35L522.83 231.09L523.20 230.83L523.57 230.57L523.95 230.31L524.32 230.05L524.69 229.79L525.06 229.54L525.44 229.29L525.81 229.04L526.18 228.79L526.56 228.54L526.93 228.29L527.30 228.05L527.68 227.81L528.05 227.57L528.42 227.33L528.80 227.09L529.17 226.85L529.54 226.62L529.92 226.39L530.29 226.16L530.66 225.93L531.04 225.70L531.41 225.48L531.78 225.25L532.16 225.03L532.53 224.81L532.90 224.59L533.28 224.38L533.65 224.16L534.02 223.95L534.40 223.74L534.77 223.53L535.14 223.33L535.52 223.12L535.89 222.92L536.26 222.72L536.64 222.53L537.01 222.33L537.38 222.14L537.76 221.94L538.13 221.75L538.50 221.57L538.88 221.38L539.25 221.20L539.62 221.02L539.99 220.84L540.37 220.66L540.74 220.49L541.11 220.32L541.49 220.15L541.86 219.98L542.23 219.81L542.61 219.65L542.98 219.49L543.35 219.33L543.73 219.18L544.10 219.02L544.47 218.87L544.85 218.72L545.22 218.58L545.59 218.43L545.97 218.29L546.34 218.15L546.71 218.02L547.09 217.88L547.46 217.75L547.83 217.62L548.21 217.50L548.58 217.37L548.95 217.25L549.33 217.13L549.70 217.02L550.07 216.90L550.45 216.79L550.82 216.68L551.19 216.58L551.57 216.48L551.94 216.38L552.31 216.28L552.69 216.18L553.06 216.09L553.43 216.00L553.81 215.92L554.18 215.83L554.55 215.75L554.92 215.68L555.30 215.60L555.67 215.53L556.04 215.46L556.42 215.40L556.79 215.33L557.16 215.27L557.54 215.21L557.91 215.16L558.28 215.11L558.66 215.06L559.03 215.02L559.40 214.97L559.78 214.93L560.15 214.90L560.52 214.87L560.90 214.84L561.27 214.81L561.64 214.78L562.02 214.76L562.39 214.75L562.76 214.73L563.14 214.72L563.51 214.71L563.88 214.71L564.26 214.71L564.63 214.71L565.00 214.72L565.38 214.72L565.75 214.74L566.12 214.75L566.50 214.77L566.87 214.79L567.24 214.82L567.62 214.85L567.99 214.88L568.36 214.91L568.74 214.95L569.11 215.00L569.48 215.04L569.85 215.09L570.23 215.14L570.60 215.20L570.97 215.26L571.35 215.32L571.72 215.39L572.09 215.46L572.47 215.54L572.84 215.61L573.21 215.70L573.59 215.78L573.96 215.87L574.33 215.96L574.71 216.06L575.08 216.16L575.45 216.26L575.83 216.37L576.20 216.48L576.57 216.60L576.95 216.72L577.32 216.84L577.69 216.97L578.07 217.10L578.44 217.23L578.81 217.37L579.19 217.52L579.56 217.67L579.93 217.82L580.31 217.98L580.68 218.14L581.05 218.30L581.43 218.47L581.80 218.65L582.17 218.83L582.55 219.01L582.92 219.20L583.29 219.39L583.67 219.59L584.04 219.80L584.41 220.00L584.78 220.22L585.16 220.43L585.53 220.66L585.90 220.88L586.28 221.12L586.65 221.35L587.02 221.60L587.40 221.85L587.77 222.10L588.14 222.36L588.52 222.62L588.89 222.89L589.26 223.17L589.64 223.45L590.01 223.73L590.38 224.02L590.76 224.32L591.13 224.62L591.50 224.93L591.88 225.25L592.25 225.57L592.62 225.89L593.00 226.23L593.37 226.56L593.74 226.91L594.12 227.26L594.49 227.61L594.86 227.97L595.24 228.34L595.61 228.72L595.98 229.10L596.36 229.48L596.73 229.88L597.10 230.28L597.48 230.68L597.85 231.09L598.22 231.51L598.60 231.94L598.97 232.37L599.34 232.81L599.71 233.25L600.09 233.71L600.46 234.16L600.83 234.63L601.21 235.10L601.58 235.58L601.95 236.07L602.33 236.56L602.70 237.06L603.07 237.57L603.45 238.08L603.82 238.61L604.19 239.14L604.57 239.67L604.94 240.21L605.31 240.77L605.69 241.32L606.06 241.89L606.43 242.46L606.81 243.03L607.18 243.62L607.55 244.21L607.93 244.81L608.30 245.41L608.67 246.02L609.05 246.64L609.42 247.26L609.79 247.89L610.17 248.53L610.54 249.17L610.91 249.82L611.29 250.47L611.66 251.13L612.03 251.80L612.41 252.47L612.78 253.15L613.15 253.83L613.53 254.52L613.90 255.22L614.27 255.92L614.64 256.62L615.02 257.34L615.39 258.05L615.76 258.78L616.14 259.50L616.51 260.24L616.88 260.97L617.26 261.72L617.63 262.47L618.00 263.22L618.38 263.98L618.75 264.74L619.12 265.51L619.50 266.28L619.87 267.06L620.24 267.84L620.62 268.63L620.99 269.42L621.36 270.22L621.74 271.02L622.11 271.82L622.48 272.63L622.86 273.44L623.23 274.26L623.60 275.08L623.98 275.91L624.35 276.74L624.72 277.57L625.10 278.41L625.47 279.25L625.84 280.09L626.22 280.94L626.59 281.80L626.96 282.65L627.34 283.52L627.71 284.38L628.08 285.26L628.46 286.13L628.83 287.02L629.20 287.91L629.57 288.80L629.95 289.70L630.32 290.61L630.69 291.53L631.07 292.45L631.44 293.38L631.81 294.32L632.19 295.26L632.56 296.21L632.93 297.17L633.31 298.14L633.68 299.12L634.05 300.10L634.43 301.10L634.80 302.10L635.17 303.12L635.55 304.14L635.92 305.17L636.29 306.22L636.67 307.27L637.04 308.34L637.41 309.41L637.79 310.50L638.16 311.60L638.53 312.71L638.91 313.83L639.28 314.96L639.65 316.11L640.03 317.26L640.40 318.43L640.77 319.62L641.15 320.81L641.52 322.01L641.89 323.23L642.27 324.46L642.64 325.69L643.01 326.93L643.39 328.19L643.76 329.45L644.13 330.72L644.50 331.99L644.88 333.27L645.25 334.56L645.62 335.86L646.00 337.15L646.37 338.46L646.74 339.77L647.12 341.08L647.49 342.39L647.86 343.71L648.24 345.03L648.61 346.35L648.98 347.67L649.36 348.99L649.73 350.31L650.10 351.63L650.48 352.95L650.85 354.27L651.22 355.59L651.60 356.91L651.97 358.22L652.34 359.53L652.72 360.83L653.09 362.13L653.46 363.43L653.84 364.72L654.21 366.01L654.58 367.28L654.96 368.56L655.33 369.82L655.70 371.08L656.08 372.34L656.45 373.59L656.82 374.84L657.20 376.09L657.57 377.34L657.94 378.58L658.32 379.83L658.69 381.08L659.06 382.33L659.43 383.58L659.81 384.84L660.18 386.10L660.55 387.36L660.93 388.63L661.30 389.91L661.67 391.20L662.05 392.49L662.42 393.79L662.79 395.10L663.17 396.41L663.54 397.74L663.91 399.07L664.29 400.41L664.66 401.75L665.03 403.11L665.41 404.47L665.78 405.83L666.15 407.20L666.53 408.58L666.90 409.97L667.27 411.36L667.65 412.76L668.02 414.16L668.39 415.56L668.77 416.98L669.14 418.39L669.51 419.82L669.89 421.24L670.26 422.66L670.63 424.08L671.01 425.49L671.38 426.89L671.75 428.28L672.13 429.65L672.50 431.01L672.87 432.35L673.25 433.66L673.62 434.95L673.99 436.20L674.36 437.43L674.74 438.62L675.11 439.78L675.48 440.90L675.86 441.97L676.23 443.00L676.60 443.99L676.98 444.92L677.35 445.81L677.72 446.65L678.10 447.44L678.47 448.19L678.84 448.89L679.22 449.55L679.59 450.16L679.96 450.72L680.34 451.25L680.71 451.73L681.08 452.16L681.46 452.56L681.83 452.91L682.20 453.22L682.58 453.49L682.95 453.71L683.32 453.90L683.70 454.05L684.07 454.16L684.44 454.22L684.82 454.25L685.19 454.24L685.56 454.19L685.94 454.10L686.31 453.96L686.68 453.77L687.06 453.53L687.43 453.23L687.80 452.88L688.18 452.48L688.55 452.01L688.92 451.47L689.29 450.88L689.67 450.21L690.04 449.47L690.41 448.66L690.79 447.78L691.16 446.81L691.53 445.77L691.91 444.64L692.28 443.43L692.65 442.13L693.03 440.73L693.40 439.25L693.77 437.67L694.15 435.99L694.52 434.21L694.89 432.33L695.27 430.34L695.64 428.24L696.01 426.04L696.39 423.72L696.76 421.28L697.13 418.73L697.51 416.06L697.88 413.27L698.25 410.34L698.63 407.29L699.00 404.08L699.37 400.71L699.75 397.15L700.12 393.39L700.49 389.41L700.87 385.19L701.24 380.72L701.61 375.98L701.99 370.95L702.36 365.62L702.73 359.96L703.11 353.96L703.48 347.60L703.85 340.88L704.22 333.76L704.60 326.23L704.97 318.27L705.34 309.88L705.72 301.02L706.09 291.72L706.46 281.98L706.84 271.81L707.21 261.22L707.58 250.23L707.96 238.85L708.33 227.08L708.70 214.94L709.08 202.45L709.45 189.60L709.82 176.42L710.20 162.91L710.57 149.09L710.94 134.97L711.32 120.55L711.69 105.86L712.06 90.89L712.44 75.67L712.81 60.20L713.18 44.51L713.56 28.60L713.93 12.50L714.30 -3.77" stroke="#ff0000" stroke-width="0.85" fill="none" stroke-linejoin="round"/>
<path d="M349.32 366.77V366.91M356.59 363.41V363.61M363.86 359.91V360.17M371.12 355.87V356.20M378.39 351.18V351.58M385.65 346.79V347.26M392.92 342.18V342.71M400.19 336.81V337.41M407.45 331.45V332.12M414.72 325.73V326.46M421.99 319.89V320.69M429.25 313.75V314.62M436.52 306.11V307.06M443.78 300.81V301.83M451.05 294.38V295.48M458.32 287.85V289.03M465.58 280.76V282.01M472.85 273.86V275.19M480.12 267.37V268.77M487.38 259.55V261.05M494.65 252.81V254.41M501.91 246.66V248.36M509.18 240.40V242.20M516.45 235.25V237.06M523.71 229.51V231.33M530.98 225.14V226.97M538.25 220.66V222.50M545.51 217.54V219.40M552.78 215.39V217.25M560.04 214.37V216.24M567.31 212.06V214.96M574.58 215.07V216.97M581.84 216.74V218.76M589.11 221.62V223.93M596.38 228.64V231.24M603.64 236.91V239.71M610.91 249.00V252.00M618.17 261.87V265.07M625.44 277.11V280.31M632.71 294.77V298.27M639.97 315.77V319.57M647.24 338.63V342.73M654.51 365.55V369.95M661.77 389.23V393.83M669.04 415.07V419.87M676.30 439.37V444.57M683.57 452.74V458.34M690.84 444.59V450.59M698.10 407.99V414.99M705.37 305.22V313.62M712.64 62.80V72.00" stroke="#ff0000" stroke-width="1.7" fill="none"/><path d="M166.58 390.02h2.17M173.85 389.97h2.17M181.11 389.94h2.17M188.38 389.92h2.17M195.65 389.88h2.17M202.91 389.81h2.17M210.18 389.69h2.17M217.45 389.50h2.17M224.71 389.24h2.17M231.98 388.93h2.17M239.24 388.60h2.17M246.51 388.31h2.17M253.78 388.05h2.17M261.04 387.74h2.17M268.31 387.26h2.17M275.58 386.51h2.17M282.84 385.42h2.17M290.11 384.06h2.17M297.37 382.57h2.17M304.64 381.03h2.17M311.91 379.40h2.17M319.17 377.59h2.17M326.44 375.46h2.17M333.71 372.92h2.17M340.97 369.99h2.18M348.23 366.77h2.19M348.23 366.91h2.19M355.49 363.41h2.21M355.49 363.61h2.21M362.75 359.91h2.22M362.75 360.17h2.22M370.01 355.87h2.23M370.01 356.20h2.23M377.27 351.18h2.24M377.27 351.58h2.24M384.53 346.79h2.25M384.53 347.26h2.25M391.79 342.18h2.26M391.79 342.71h2.26M399.05 336.81h2.27M399.05 337.41h2.27" stroke="#ff0000" stroke-opacity="0.72" stroke-width="1.3" fill="none"/><path d="M406.31 331.45h2.29M406.31 332.12h2.29M413.57 325.73h2.30M413.57 326.46h2.30M420.83 319.89h2.31M420.83 320.69h2.31M428.07 313.75h2.36M428.07 314.62h2.36M435.31 306.11h2.42M435.31 307.06h2.42M442.55 300.81h2.47M442.55 301.83h2.47M449.79 294.38h2.52M449.79 295.48h2.52M457.02 287.85h2.60M457.02 289.03h2.60M464.24 280.76h2.68M464.24 282.01h2.68M471.47 273.86h2.76M471.47 275.19h2.76M478.70 267.37h2.83M478.70 268.77h2.83M485.92 259.55h2.91M485.92 261.05h2.91M493.15 252.81h2.99M493.15 254.41h2.99M500.38 246.66h3.07M500.38 248.36h3.07M507.61 240.40h3.15M507.61 242.20h3.15M514.86 235.25h3.18M514.86 237.06h3.18M522.11 229.51h3.21M522.11 231.33h3.21M529.36 225.14h3.24M529.36 226.97h3.24M536.61 220.66h3.27M536.61 222.50h3.27M543.86 217.54h3.30M543.86 219.40h3.30M551.12 215.39h3.33M551.12 217.25h3.33M558.37 214.37h3.35M558.37 216.24h3.35M565.62 212.06h3.38M565.62 214.96h3.38M572.87 215.07h3.41M572.87 216.97h3.41M580.12 216.74h3.44M580.12 218.76h3.44M587.37 221.62h3.47M587.37 223.93h3.47M594.62 228.64h3.50M594.62 231.24h3.50M601.89 236.91h3.50M601.89 239.71h3.50M609.16 249.00h3.50M609.16 252.00h3.50M616.42 261.87h3.50M616.42 265.07h3.50M623.69 277.11h3.50M623.69 280.31h3.50M630.96 294.77h3.50M630.96 298.27h3.50M638.22 315.77h3.50M638.22 319.57h3.50M645.49 338.63h3.50M645.49 342.73h3.50M652.76 365.55h3.50M652.76 369.95h3.50M660.02 389.23h3.50M660.02 393.83h3.50M667.29 415.07h3.50M667.29 419.87h3.50M674.55 439.37h3.50M674.55 444.57h3.50M681.82 452.74h3.50M681.82 458.34h3.50M689.09 444.59h3.50M689.09 450.59h3.50M696.35 407.99h3.50M696.35 414.99h3.50M703.62 305.22h3.50M703.62 313.62h3.50M710.89 62.80h3.50M710.89 72.00h3.50" stroke="#ff0000" stroke-width="1.45" fill="none"/>
</g>
<path d="M334.8 51.55H403.4" stroke="#0000ff" stroke-width="1.9" stroke-linecap="round"/>
<path d="M334.2 77.95H404" stroke="#ff0000" stroke-opacity="0.8" stroke-width="1.15"/>
<rect x="160.4" y="31.6" width="581.30" height="435.90" fill="none" stroke="#000" stroke-width="1.5"/>
<g fill="#000">
<g transform="translate(145.8 41.2) scale(0.965 1)"><text x="0" y="0" text-anchor="end" font-family="Liberation Sans, sans-serif" font-style="italic" font-size="27.2" stroke="#000" stroke-width="0.35">0.006</text></g>
<g transform="translate(145.8 100.79) scale(0.965 1)"><text x="0" y="0" text-anchor="end" font-family="Liberation Sans, sans-serif" font-style="italic" font-size="27.2" stroke="#000" stroke-width="0.35">0.005</text></g>
<g transform="translate(145.8 160.38) scale(0.965 1)"><text x="0" y="0" text-anchor="end" font-family="Liberation Sans, sans-serif" font-style="italic" font-size="27.2" stroke="#000" stroke-width="0.35">0.004</text></g>
<g transform="translate(145.8 219.97) scale(0.965 1)"><text x="0" y="0" text-anchor="end" font-family="Liberation Sans, sans-serif" font-style="italic" font-size="27.2" stroke="#000" stroke-width="0.35">0.003</text></g>
<g transform="translate(145.8 279.56) scale(0.965 1)"><text x="0" y="0" text-anchor="end" font-family="Liberation Sans, sans-serif" font-style="italic" font-size="27.2" stroke="#000" stroke-width="0.35">0.002</text></g>
<g transform="translate(131.21 339.15) scale(0.965 1)"><text x="0" y="0" text-anchor="end" font-family="Liberation Sans, sans-serif" font-style="italic" font-size="27.2" stroke="#000" stroke-width="0.35">0.00</text></g>
<path transform="translate(137.0 339.25)" d="M0 0L2.35 0L6.2 -18.7L4.6 -18.7Q3.9 -15.3 -1.1 -15.1L-1.45 -13.4L2.75 -13.4Z" fill="#000" stroke="#000" stroke-width="0.25" stroke-linejoin="round"/>
<g transform="translate(145.8 398.74) scale(0.965 1)"><text x="0" y="0" text-anchor="end" font-family="Liberation Sans, sans-serif" font-style="italic" font-size="27.2" stroke="#000" stroke-width="0.35">0</text></g>
<g transform="translate(131.21 458.33) scale(0.965 1)"><text x="0" y="0" text-anchor="end" font-family="Liberation Sans, sans-serif" font-style="italic" font-size="27.2" stroke="#000" stroke-width="0.35">-0.00</text></g>
<path transform="translate(137.0 458.43)" d="M0 0L2.35 0L6.2 -18.7L4.6 -18.7Q3.9 -15.3 -1.1 -15.1L-1.45 -13.4L2.75 -13.4Z" fill="#000" stroke="#000" stroke-width="0.25" stroke-linejoin="round"/>
<g transform="translate(165.4 503) scale(0.965 1)"><text x="0" y="0" text-anchor="middle" font-family="Liberation Sans, sans-serif" font-style="italic" font-size="27.2" stroke="#000" stroke-width="0.35">0</text></g>
<g transform="translate(281.66 503) scale(0.965 1)"><text x="0" y="0" text-anchor="middle" font-family="Liberation Sans, sans-serif" font-style="italic" font-size="27.2" stroke="#000" stroke-width="0.35">0.2</text></g>
<g transform="translate(397.92 503) scale(0.965 1)"><text x="0" y="0" text-anchor="middle" font-family="Liberation Sans, sans-serif" font-style="italic" font-size="27.2" stroke="#000" stroke-width="0.35">0.4</text></g>
<g transform="translate(514.18 503) scale(0.965 1)"><text x="0" y="0" text-anchor="middle" font-family="Liberation Sans, sans-serif" font-style="italic" font-size="27.2" stroke="#000" stroke-width="0.35">0.6</text></g>
<g transform="translate(630.44 503) scale(0.965 1)"><text x="0" y="0" text-anchor="middle" font-family="Liberation Sans, sans-serif" font-style="italic" font-size="27.2" stroke="#000" stroke-width="0.35">0.8</text></g>
<path transform="translate(744.8 502.75)" d="M0 0L2.35 0L6.2 -18.7L4.6 -18.7Q3.9 -15.3 -1.1 -15.1L-1.45 -13.4L2.75 -13.4Z" fill="#000" stroke="#000" stroke-width="0.25" stroke-linejoin="round"/>
<g transform="translate(319.8 60.55) scale(0.989 1)"><text x="0" y="0" text-anchor="end" font-family="Liberation Sans, sans-serif" font-style="italic" font-size="26.3" stroke="#000" stroke-width="0.3">qqbar’</text></g><g transform="translate(231.33 60.55) scale(0.989 1)"><text x="0" y="0" text-anchor="end" font-family="Liberation Sans, sans-serif" font-style="italic" font-size="26.3" stroke="#000" stroke-width="0.3">ij</text></g><rect x="232.93" y="51.67" width="12.3" height="1.55" fill="#000" transform="skewX(0)"/><rect x="231.98" y="56.07" width="12.3" height="1.55" fill="#000"/>
<g transform="translate(319.8 86.15) scale(0.989 1)"><text x="0" y="0" text-anchor="end" font-family="Liberation Sans, sans-serif" font-style="italic" font-size="26.3" stroke="#000" stroke-width="0.3">qq’</text></g><g transform="translate(268.91 86.15) scale(0.989 1)"><text x="0" y="0" text-anchor="end" font-family="Liberation Sans, sans-serif" font-style="italic" font-size="26.3" stroke="#000" stroke-width="0.3">ij</text></g><rect x="270.51" y="77.28" width="12.3" height="1.55" fill="#000" transform="skewX(0)"/><rect x="269.56" y="81.67" width="12.3" height="1.55" fill="#000"/>
<g transform="translate(451.3 541.8000000000001) scale(1.06 1)"><text x="0" y="0" text-anchor="middle" font-family="Liberation Serif, serif" font-size="27.2" stroke="#000" stroke-width="0.15">β</text></g>
</g>
<g transform="translate(30.7 290.2) rotate(-90)" fill="#000"><g transform="translate(-1.2 -1.2) scale(1.1 1)"><text x="0" y="0" text-anchor="start" font-family="Liberation Sans, sans-serif" font-size="23.6" stroke="#000" stroke-width="0.6">σ</text></g><g transform="translate(15.7 6.9) scale(0.965 1)"><text x="0" y="0" text-anchor="start" font-family="Liberation Sans, sans-serif" font-style="italic" font-size="21.76" stroke="#000" stroke-width="0.1">ij</text></g><g transform="translate(24.9 -13.8) scale(0.965 1)"><text x="0" y="0" text-anchor="start" font-family="Liberation Sans, sans-serif" font-style="italic" font-size="21.76" stroke="#000" stroke-width="0.15">(2)</text></g><g transform="translate(50.6 0) scale(1.0 1)"><text x="0" y="0" text-anchor="start" font-family="Liberation Sans, sans-serif" font-style="italic" font-size="26.6" stroke="#000" stroke-width="0.1">(</text></g><g transform="translate(59 0) scale(0.97 1)"><text x="0" y="0" text-anchor="start" font-family="Liberation Serif, serif" font-size="27.8" stroke="#000" stroke-width="0.3">β</text></g><g transform="translate(74.9 0) scale(1.0 1)"><text x="0" y="0" text-anchor="start" font-family="Liberation Sans, sans-serif" font-style="italic" font-size="26.6" stroke="#000" stroke-width="0.1">)</text></g></g>
</svg>
</body></html>
